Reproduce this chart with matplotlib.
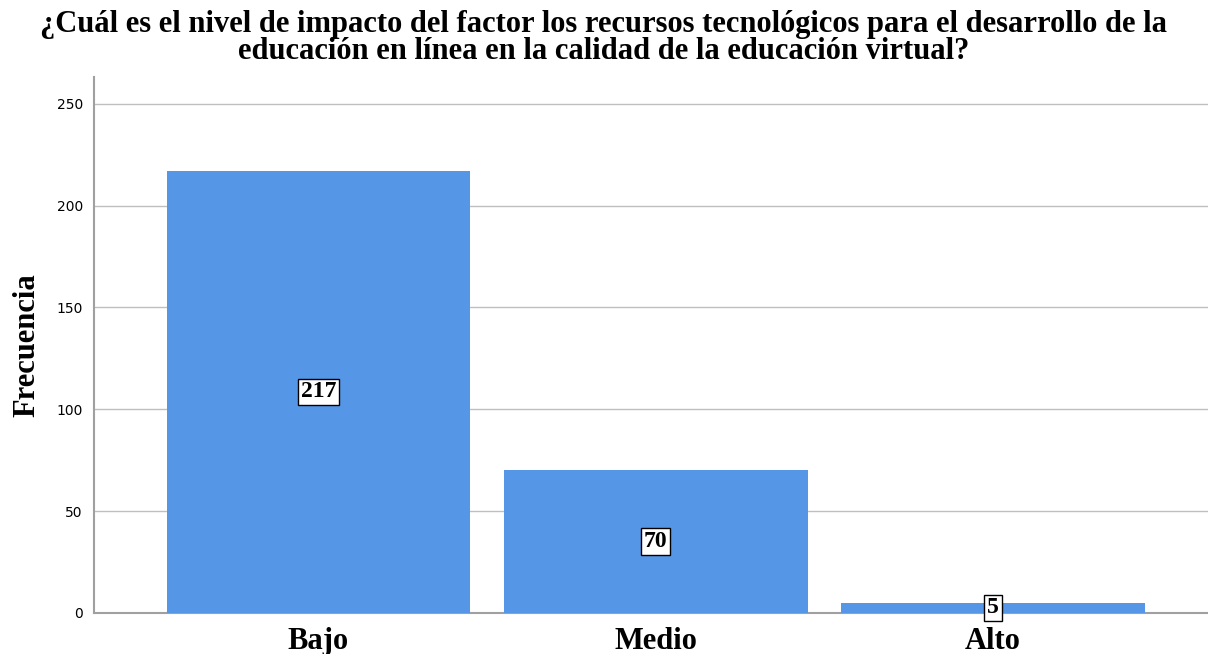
import matplotlib.pyplot as plt

categorias = ["Bajo", "Medio", "Alto"]
frecuencias = [217, 70, 5]
y_ticks = [0, 50, 100, 150, 200, 250]

titulo = ("¿Cuál es el nivel de impacto del factor los recursos tecnológicos para el desarrollo de la\n"
          "educación en línea en la calidad de la educación virtual?")

fig = plt.figure(figsize=(12.08, 6.54), dpi=100)
ax = fig.add_axes([0.0778, 0.0627, 0.9222, 0.8193])

x = range(len(categorias))
barras = ax.bar(x, frecuencias, width=0.9, color='#5596e6', zorder=3)

# etiquetas en el centro de cada barra
for b, v in zip(barras, frecuencias):
    ax.text(b.get_x() + b.get_width() / 2, v / 2, str(v),
            ha='center', va='center', fontsize=17, fontweight='bold',
            family='Liberation Serif', zorder=4,
            bbox=dict(boxstyle='square,pad=0.12', fc='white', ec='black', lw=1))

ax.set_xlim(-0.665, 2.637)
ax.set_ylim(0, 263)
ax.set_yticks(y_ticks)
ax.set_xticks(list(x))
ax.set_xticklabels(categorias, fontsize=22, fontweight='bold', family='Liberation Serif')
ax.tick_params(axis='y', labelsize=10, length=0, pad=8)
ax.tick_params(axis='x', length=0, pad=10)
ax.grid(axis='y', color='#bfbfbf', lw=1, zorder=0)

for s in ['top', 'right']:
    ax.spines[s].set_visible(False)
for s in ['left', 'bottom']:
    ax.spines[s].set_color('#a0a0a0')
    ax.spines[s].set_linewidth(1.5)

ax.set_ylabel("Frecuencia", fontsize=22, fontweight='bold', family='Liberation Serif')
ax.yaxis.set_label_coords(-0.047, 0.5)
fig.suptitle(titulo, fontsize=22, fontweight='bold', family='Liberation Serif',
             y=0.985, va='top', linespacing=0.92)

plt.savefig("out.png", dpi=100)
